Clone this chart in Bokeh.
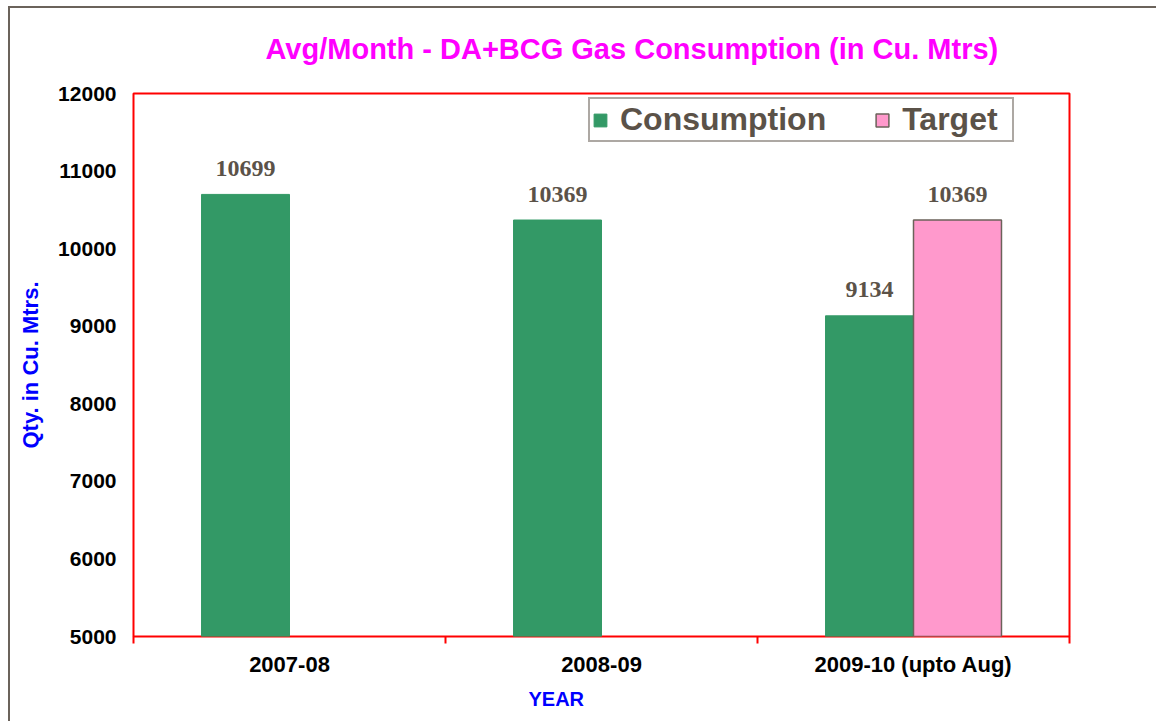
from bokeh.plotting import figure
from bokeh.models import ColumnDataSource, Range1d, FixedTicker, Legend, LegendItem, Title
from bokeh.core.properties import value
from bokeh.embed import file_html
from bokeh.resources import INLINE

# ---- data ----
years = ["2007-08", "2008-09", "2009-10 (upto Aug)"]
consumption = [10699, 10369, 9134]
target = [None, None, 10369]
y_ticks = [5000, 6000, 7000, 8000, 9000, 10000, 11000, 12000]

Y_MIN, Y_MAX = 5000, 12000

TITLE = "Avg/Month - DA+BCG Gas Consumption (in Cu. Mtrs)"
X_TITLE = "YEAR"
Y_TITLE = "Qty. in Cu. Mtrs."
TAUPE = "#5b5248"
FRAME = "#6b635b"
SANS = "Liberation Sans"
SERIF = "Liberation Serif"

n = len(years)
centers = [i + 0.5 for i in range(n)]      # category slots on the x scale
edges = [float(i) for i in range(n + 1)]   # category boundaries

p = figure(
    x_range=Range1d(0, n),
    y_range=Range1d(Y_MIN, Y_MAX),
    width=1156, height=721,
    output_backend="svg", toolbar_location=None,
    min_border_left=133, min_border_right=87,
    min_border_top=93, min_border_bottom=85,
)
# outer chart border (left/top edges) drawn behind a transparent border area
p.border_fill_alpha = 0
p.styles = {
    "background": (f"linear-gradient({FRAME},{FRAME}) 8px 6px / 2px 100% no-repeat, "
                   f"linear-gradient({FRAME},{FRAME}) 8px 6px / 100% 2px no-repeat, white"),
}
p.background_fill_color = "white"
p.outline_line_color = "#ff0000"
p.outline_line_width = 2
p.grid.visible = False

# title
p.title.text = TITLE
p.title.align = "left"
p.title.offset = 132
p.title.text_font = SANS
p.title.text_font_style = "bold"
p.title.text_font_size = "29px"
p.title.text_color = "#ff00ff"
p.title.standoff = 58

# x axis: labels at category centres, boundary ticks as minor ticks
xa = p.xaxis[0]
xa.ticker = FixedTicker(ticks=centers, minor_ticks=edges)
xa.major_label_overrides = {c: y for c, y in zip(centers, years)}
xa.axis_line_color = None
xa.major_tick_line_color = None
xa.major_tick_out = 0
xa.major_tick_in = 0
xa.minor_tick_line_color = "#ff0000"
xa.minor_tick_line_width = 2
xa.minor_tick_in = 0
xa.minor_tick_out = 7
xa.major_label_text_font = SANS
xa.major_label_text_font_style = "bold"
xa.major_label_text_font_size = "22px"
xa.major_label_text_color = "black"
xa.major_label_standoff = 8

# x axis title (placed left of centre, as in the original)
x_title = Title(text=X_TITLE, align="left", offset=395, standoff=12,
                text_font=SANS, text_font_style="bold", text_font_size="20px",
                text_color="#0000ff")
p.add_layout(x_title, "below")

# y axis
ya = p.yaxis[0]
ya.ticker = FixedTicker(ticks=y_ticks, minor_ticks=[])
ya.axis_line_color = None
ya.major_tick_line_color = None
ya.major_tick_out = 0
ya.major_tick_in = 0
ya.minor_tick_line_color = None
ya.major_label_text_font = SANS
ya.major_label_text_font_style = "bold"
ya.major_label_text_font_size = "21px"
ya.major_label_text_color = "black"
ya.major_label_standoff = 17
ya.axis_label = Y_TITLE
ya.axis_label_text_font = SANS
ya.axis_label_text_font_style = "bold"
ya.axis_label_text_font_size = "22px"
ya.axis_label_text_color = "#0000ff"
ya.axis_label_standoff = 12

# bars
BAR_W = 0.282
OFF = BAR_W / 2

cons_src = ColumnDataSource(dict(x=[c - OFF for c in centers], value=consumption,
                                 label=[str(v) for v in consumption]))
t_idx = [i for i, v in enumerate(target) if v is not None]
tgt_src = ColumnDataSource(dict(x=[centers[i] + OFF for i in t_idx],
                                value=[target[i] for i in t_idx],
                                label=[str(target[i]) for i in t_idx]))

r1 = p.vbar(x="x", top="value", bottom=Y_MIN, width=BAR_W, source=cons_src,
            fill_color="#339966", line_color="#339966")
r2 = p.vbar(x="x", top="value", bottom=Y_MIN, width=BAR_W, source=tgt_src,
            fill_color="#ff99cc", line_color="#6b625a", line_width=1.5)

for src in (cons_src, tgt_src):
    p.text(x="x", y="value", text="label", source=src,
           text_align="center", text_baseline="alphabetic", y_offset=-26,
           text_font=value(SERIF), text_font_style="bold", text_font_size="24px",
           text_color=TAUPE)

legend = Legend(items=[LegendItem(label="Consumption", renderers=[r1]),
                       LegendItem(label="Target", renderers=[r2])],
                orientation="horizontal", location=(455, 494))
legend.label_text_font = SANS
legend.label_text_font_style = "bold"
legend.label_text_font_size = "32px"
legend.label_text_color = TAUPE
legend.border_line_color = TAUPE
legend.border_line_width = 2
legend.background_fill_color = "white"
legend.background_fill_alpha = 1
legend.padding = 2
legend.spacing = 48
legend.label_standoff = 12
legend.label_width = 108
legend.glyph_width = 16
legend.glyph_height = 16
legend.margin = 0
p.add_layout(legend, "center")

open("out.html", "w").write(file_html(p, INLINE))
